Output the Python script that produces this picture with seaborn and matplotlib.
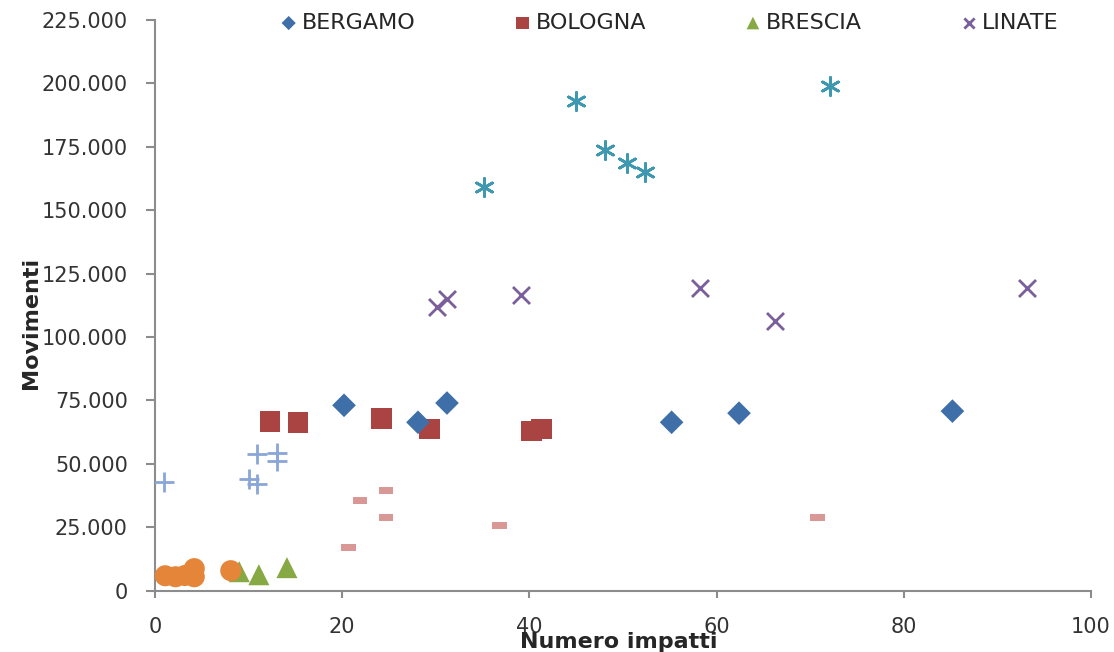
import matplotlib
matplotlib.use("Agg")
import matplotlib.pyplot as plt
import matplotlib.ticker as mticker
import numpy as np
import pandas as pd
import seaborn as sns

# data (x = impacts, y = movements)
bergamo_x = [20.2, 28.1, 31.2, 55.2, 62.4, 85.2]
bergamo_y = [73100, 66400, 74000, 66400, 70000, 70800]

bologna_x = [12.3, 15.3, 24.2, 29.3, 40.2, 41.3]
bologna_y = [66800, 66400, 68000, 63700, 62900, 63700]

brescia_x = [9.0, 11.1, 14.1]
brescia_y = [7500, 6300, 9100]

linate_x = [30.1, 31.2, 39.1, 58.2, 66.2, 93.2]
linate_y = [111900, 115000, 116600, 119400, 106300, 119400]

malpensa_x = [35.2, 45.0, 48.1, 50.4, 52.4, 72.1]
malpensa_y = [159300, 192900, 173900, 168800, 165200, 198800]

orange_x = [1.1, 2.2, 3.2, 4.2, 4.2, 8.1]
orange_y = [5900, 5500, 6000, 8700, 5500, 7900]

plus_x = [1.0, 10.0, 10.9, 10.9, 13.0, 13.0]
plus_y = [42700, 43900, 41900, 53800, 54200, 51000]

dash_x = [20.7, 21.9, 24.7, 24.7, 36.8, 70.8]
dash_y = [17000, 35600, 39500, 28900, 25700, 28900]

LEGEND_NAMES = ["BERGAMO", "BOLOGNA", "BRESCIA", "LINATE"]

sns.set_theme(style="ticks")
plt.rcParams["font.family"] = ["DejaVu Sans"]

fig = plt.figure(figsize=(11.14, 6.52), dpi=100)
ax = fig.add_axes([0.1391, 0.094, 0.8402, 0.8753])

dash_marker = [(-1, -0.5), (1, -0.5), (1, 0.5), (-1, 0.5), (-1, -0.5)]

series = [
    ("MALPENSA", malpensa_x, malpensa_y, (6, 2, 0), "#3d98b0", 170, 2.0),
    ("plus", plus_x, plus_y, "+", "#8aa6d6", 200, 2.0),
    ("dash", dash_x, dash_y, dash_marker, "#d99795", 110, 0),
    ("BOLOGNA", bologna_x, bologna_y, "s", "#a94442", 220, 0),
    ("BERGAMO", bergamo_x, bergamo_y, "D", "#3f6fa8", 145, 0),
    ("LINATE", linate_x, linate_y, "x", "#7b5e9c", 150, 2.0),
    ("BRESCIA", brescia_x, brescia_y, "^", "#86a944", 230, 0),
    ("orange", orange_x, orange_y, "o", "#e5853a", 230, 0),
]

for name, xs, ys, mk, col, size, lw in series:
    df = pd.DataFrame({"x": xs, "y": ys})
    kw = dict(edgecolor="none", linewidth=0) if lw == 0 else dict(linewidth=lw)
    sns.scatterplot(data=df, x="x", y="y", marker=mk, color=col, s=size,
                    ax=ax, label=name, zorder=3, **kw)

ax.set_xlim(0, 100)
ax.set_ylim(0, 225000)
ax.xaxis.set_major_locator(mticker.MultipleLocator(20))
ax.yaxis.set_major_locator(mticker.MultipleLocator(25000))
ax.yaxis.set_major_formatter(
    mticker.FuncFormatter(lambda v, _: f"{int(v):,}".replace(",", ".")))

for side in ("top", "right"):
    ax.spines[side].set_visible(False)
for side in ("left", "bottom"):
    ax.spines[side].set_color("#8c8c8c")
    ax.spines[side].set_linewidth(1.5)
ax.tick_params(axis="both", color="#8c8c8c", width=1.5,
               colors="#8c8c8c", labelcolor="#333333")
ax.tick_params(axis="y", labelsize=15, length=6.5, pad=13)
ax.tick_params(axis="x", labelsize=15, length=5, pad=14)

ax.set_xlabel("Numero impatti", fontsize=16, fontweight="bold")
ax.set_ylabel("Movimenti", fontsize=16, fontweight="bold")
ax.xaxis.set_label_coords(0.495, -0.073)
ax.yaxis.set_label_coords(-0.122, 0.469)

handles, labels = ax.get_legend_handles_labels()
lut = dict(zip(labels, handles))
leg = ax.legend([lut[n] for n in LEGEND_NAMES], LEGEND_NAMES, ncol=4,
                loc="center left", bbox_to_anchor=(0.112, 0.995),
                frameon=False, markerscale=0.6, handlelength=0.8,
                handletextpad=0.2, columnspacing=4.4,
                prop={"size": 16})

fig.savefig("out.png", dpi=100)
